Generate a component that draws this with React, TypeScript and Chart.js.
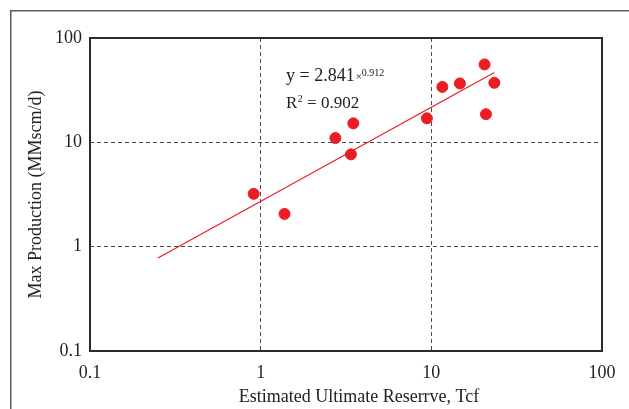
import React, { useEffect, useRef } from "react";
import { Chart, registerables } from "chart.js";

Chart.register(...registerables);

// Data (log-log)
const reserveTcf = [0.91, 1.38, 2.74, 3.49, 3.38, 9.42, 11.6, 14.7, 20.5, 20.9, 23.4];
const maxProduction = [3.21, 2.06, 11.0, 15.2, 7.67, 17.0, 34.0, 36.7, 55.8, 18.6, 37.2];
const trendX = [0.25, 23.4];
const trendY = [0.78, 46.8];
const tickValues = [0.1, 1, 10, 100];
const equationText = "y = 2.841";
const equationExp = "0.912";
const r2Value = "0.902";
const xTitle = "Estimated Ultimate Reserrve, Tcf";
const yTitle = "Max Production (MMscm/d)";

const FONT = "'Liberation Serif', 'Times New Roman', serif";
const RED = "#ec1c24";

const decorPlugin = {
  id: "decor",
  beforeDraw(chart: any) {
    const ctx = chart.ctx;
    ctx.save();
    ctx.fillStyle = "#ffffff";
    ctx.fillRect(0, 0, chart.width, chart.height);
    // outer frame
    ctx.strokeStyle = "#5a5a5a";
    ctx.lineWidth = 1.5;
    ctx.beginPath();
    ctx.moveTo(10.75, chart.height);
    ctx.lineTo(10.75, 10.75);
    ctx.lineTo(chart.width, 10.75);
    ctx.stroke();
    ctx.restore();
  },
  afterDraw(chart: any) {
    const ctx = chart.ctx;
    const a = chart.chartArea;
    ctx.save();
    ctx.strokeStyle = "#2a2a2a";
    ctx.lineWidth = 2;
    ctx.strokeRect(a.left, a.top, a.right - a.left, a.bottom - a.top);

    // equation annotation
    ctx.fillStyle = "#222";
    ctx.textBaseline = "alphabetic";
    ctx.textAlign = "left";
    const x0 = 286;
    ctx.font = `18px ${FONT}`;
    ctx.fillText(equationText, x0, 81);
    const w = ctx.measureText(equationText).width;
    ctx.font = `11px ${FONT}`;
    ctx.fillText("\u00d7", x0 + w + 1, 80);
    const w2 = ctx.measureText("\u00d7").width;
    ctx.font = `10px ${FONT}`;
    ctx.fillText(equationExp, x0 + w + 1 + w2, 75.5);

    ctx.font = `17px ${FONT}`;
    ctx.fillText("R", x0, 108);
    const wr = ctx.measureText("R").width;
    ctx.font = `10px ${FONT}`;
    ctx.fillText("2", x0 + wr + 0.5, 102);
    const w3 = ctx.measureText("2").width;
    ctx.font = `17px ${FONT}`;
    ctx.fillText(" = " + r2Value, x0 + wr + 0.5 + w3, 108);

    // x axis title
    ctx.font = `18px ${FONT}`;
    ctx.textAlign = "center";
    ctx.fillText(xTitle, 359, 401.5);
    ctx.restore();
  },
};

function fmt(v: number) {
  if (v === 0.1) return "0.1";
  return String(Math.round(v));
}

export default function App() {
  const ref = useRef<HTMLCanvasElement | null>(null);
  useEffect(() => {
    if (!ref.current) return;
    const gridColor = (c: any) =>
      c.tick && (c.tick.value === 1 || c.tick.value === 10) ? "#4a4a4a" : "rgba(0,0,0,0)";
    const chart = new Chart(ref.current, {
      type: "scatter",
      data: {
        datasets: [
          {
            type: "scatter",
            data: reserveTcf.map((x, i) => ({ x, y: maxProduction[i] })),
            backgroundColor: RED,
            borderColor: RED,
            pointRadius: 5.5,
            pointHoverRadius: 5.5,
            order: 1,
          },
          {
            type: "line",
            data: trendX.map((x, i) => ({ x, y: trendY[i] })),
            borderColor: RED,
            borderWidth: 1.2,
            pointRadius: 0,
            fill: false,
            order: 2,
          } as any,
        ],
      },
      options: {
        responsive: false,
        animation: false,
        events: [],
        layout: { padding: { left: 0, top: 38, right: 27, bottom: 0 } },
        plugins: { legend: { display: false }, tooltip: { enabled: false } },
        scales: {
          x: {
            type: "logarithmic",
            min: 0.1,
            max: 100,
            afterBuildTicks: (s: any) => {
              s.ticks = tickValues.map((value) => ({ value }));
            },
            afterFit: (s: any) => {
              s.height = 58;
            },
            grid: {
              color: gridColor,
              lineWidth: 1,
              drawTicks: false,
            },
            border: { display: false, dash: [4, 3] },
            ticks: {
              padding: 11,
              color: "#222",
              font: { family: FONT, size: 18 },
              autoSkip: false,
              maxRotation: 0,
              callback: (v: any) => fmt(Number(v)),
            },
          },
          y: {
            type: "logarithmic",
            min: 0.1,
            max: 100,
            afterBuildTicks: (s: any) => {
              s.ticks = tickValues.map((value) => ({ value }));
            },
            afterFit: (s: any) => {
              s.width = 90;
            },
            grid: {
              color: gridColor,
              lineWidth: 1,
              drawTicks: false,
            },
            border: { display: false, dash: [4, 3] },
            title: {
              display: true,
              text: yTitle,
              color: "#222",
              font: { family: FONT, size: 18 },
              padding: { top: 25, bottom: 0 },
            },
            ticks: {
              padding: 8,
              color: "#222",
              font: { family: FONT, size: 18 },
              autoSkip: false,
              callback: (v: any) => fmt(Number(v)),
            },
          },
        },
      },
      plugins: [decorPlugin],
    } as any);
    return () => chart.destroy();
  }, []);
  return (
    <div style={{ position: "absolute", left: 0, top: 0, width: 629, height: 409 }}>
      <canvas ref={ref} width={629} height={409} />
    </div>
  );
}
